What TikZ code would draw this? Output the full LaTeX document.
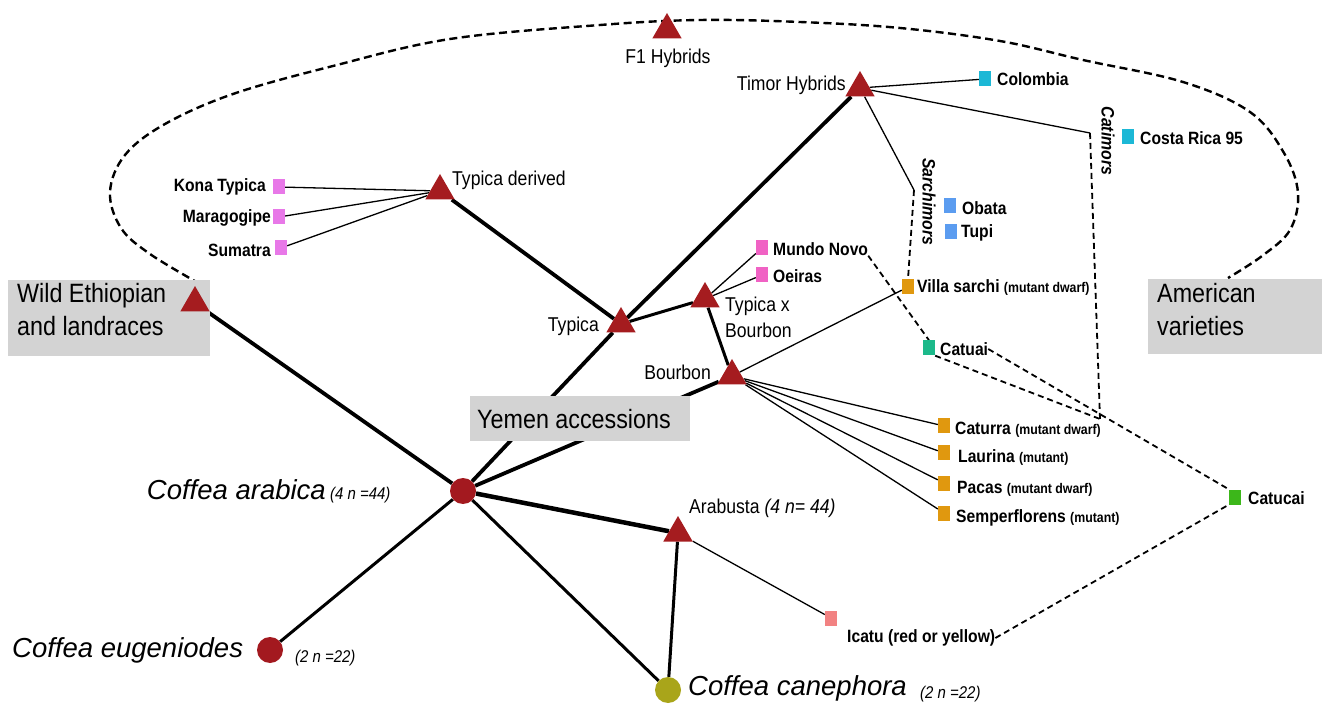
\documentclass[tikz,border=0pt]{standalone}
\usepackage{fontspec}
\setmainfont{Liberation Sans}
\newfontfamily\cf[FakeStretch=0.88]{Liberation Sans}
\newfontfamily\cfw{Liberation Sans}
\usetikzlibrary{shapes.geometric}
\pgfdeclarelayer{bg}
\pgfsetlayers{bg,main}
\definecolor{trired}{HTML}{A51C1F}
\definecolor{dotred}{HTML}{A3191F}
\definecolor{olive}{HTML}{A9A51A}
\definecolor{violetpink}{HTML}{E878E8}
\definecolor{hotpink}{HTML}{F062C4}
\definecolor{cyanbox}{HTML}{1CB8D6}
\definecolor{bluebox}{HTML}{5B9CF0}
\definecolor{orangebox}{HTML}{E0980F}
\definecolor{tealbox}{HTML}{1CB98A}
\definecolor{greenbox}{HTML}{3CB71A}
\definecolor{salmon}{HTML}{F28282}
\definecolor{boxgray}{HTML}{D3D3D3}
\begin{document}
\begin{tikzpicture}[x=1pt,y=-1pt,
  tri/.style={regular polygon, regular polygon sides=3, fill=trired, draw=none, minimum size=34pt, inner sep=0pt},
  dot/.style={circle, fill=#1, draw=none, minimum size=26pt, inner sep=0pt},
  sq/.style={rectangle, fill=#1, draw=none, minimum width=12pt, minimum height=15pt, inner sep=0pt},
  gbox/.style={fill=boxgray, draw=none},
  lb/.style={font=\cf\bfseries\fontsize{17.8}{20}\selectfont, inner sep=0pt},
  rg/.style={font=\cf\fontsize{20}{26}\selectfont, inner sep=0pt, align=left},
  bigit/.style={font=\cfw\itshape\fontsize{27.5}{32}\selectfont, inner sep=0pt},
  smit/.style={font=\cf\itshape\fontsize{17}{19}\selectfont, inner sep=0pt},
  boxt/.style={font=\cf\fontsize{26.5}{33}\selectfont, inner sep=0pt, align=left},
  rot/.style={font=\cf\bfseries\itshape\fontsize{18}{20}\selectfont, inner sep=0pt, rotate=-90},
  heavy/.style={line width=3.8pt},
  medium/.style={line width=3pt},
  twig/.style={line width=1.3pt},
  dsh/.style={line width=1.8pt, dash pattern=on 6pt off 4pt},
  loopdash/.style={line width=2.4pt, dash pattern=on 8pt off 4.5pt}
]
\newcommand{\sm}[1]{{\fontsize{14}{15}\selectfont #1}}
\useasboundingbox (0,0) rectangle (1323,708);

% gray boxes
\fill[gbox] (8,280) rectangle (210,356);
\fill[gbox] (470,396) rectangle (690,441);
\fill[gbox] (1148,279) rectangle (1322,354);
\node[boxt, anchor=north west] (wildT) at (17,283) {Wild Ethiopian\\and landraces};
\node[boxt, anchor=center] (yemenT) at (574,419) {Yemen accessions};
\node[boxt, anchor=north west] (amerT) at (1157,283) {American\\varieties};

% triangles
\node[tri] (f1) at (667,30) {};
\node[tri] (timor) at (860,88) {};
\node[tri] (tder) at (440,191) {};
\node[tri] (wild) at (195,303) {};
\node[tri] (typ) at (621,324) {};
\node[tri] (txb) at (705,299) {};
\node[tri] (bour) at (732,376) {};
\node[tri] (arabu) at (678,533) {};

% circles
\node[dot=dotred] (arab) at (463,491) {};
\node[dot=dotred] (eug) at (270,650) {};
\node[dot=olive] (cane) at (668,690) {};

% squares
\node[sq=violetpink] (kona) at (279,187) {};
\node[sq=violetpink] (marag) at (279,217) {};
\node[sq=violetpink] (suma) at (281,248) {};
\node[sq=cyanbox] (colo) at (985,79) {};
\node[sq=cyanbox] (costa) at (1128,137) {};
\node[sq=bluebox] (obata) at (950,206) {};
\node[sq=bluebox] (tupi) at (951,232) {};
\node[sq=orangebox] (villa) at (908,287) {};
\node[sq=hotpink] (mundo) at (762,248) {};
\node[sq=hotpink] (oei) at (762,275) {};
\node[sq=tealbox] (catuai) at (929,348) {};
\node[sq=orangebox] (catu) at (944,426) {};
\node[sq=orangebox] (laur) at (944,453) {};
\node[sq=orangebox] (pacas) at (944,483) {};
\node[sq=orangebox] (semp) at (944,513) {};
\node[sq=salmon] (icatu) at (831,618) {};
\node[sq=greenbox] (catucai) at (1235,497) {};

% helper coordinates
\coordinate (sarC) at (914,190);
\coordinate (catC) at (1090,133);
\coordinate (catE) at (1100,419);

% labels
\node[rg] (f1L) at (668,58) {F1 Hybrids};
\node[rg, anchor=east] (timorL) at (846,85) {Timor Hybrids};
\node[rg, anchor=west] (tderL) at (452,180) {Typica derived};
\node[rg, anchor=east] (typL) at (599,326) {Typica};
\node[rg, anchor=north west] (txbL) at (725,297) {Typica x\\Bourbon};
\node[rg, anchor=east] (bourL) at (711,372) {Bourbon};
\node[rg, anchor=west] (arabuL) at (689,508) {Arabusta {\itshape(4 \textit{n}= 44)}};
\node[lb, anchor=east] (konaL) at (266,187) {Kona Typica};
\node[lb, anchor=east] (maragL) at (271,218) {Maragogipe};
\node[lb, anchor=east] (sumaL) at (271,250) {Sumatra};
\node[lb, anchor=west] (coloL) at (997,79) {Colombia};
\node[lb, anchor=west] (costaL) at (1140,138) {Costa Rica 95};
\node[lb, anchor=west] (obataL) at (962,208) {Obata};
\node[lb, anchor=west] (tupiL) at (961,233) {Tupi};
\node[lb, anchor=west] (villaL) at (917,288) {Villa sarchi \sm{(mutant dwarf)}};
\node[lb, anchor=west] (mundoL) at (773,249) {Mundo Novo};
\node[lb, anchor=west] (oeiL) at (773,276) {Oeiras};
\node[lb, anchor=west] (catuaiL) at (940,349) {Catuai};
\node[lb, anchor=west] (catuL) at (955,430) {Caturra \sm{(mutant dwarf)}};
\node[lb, anchor=west] (laurL) at (958,458) {Laurina \sm{(mutant)}};
\node[lb, anchor=west] (pacasL) at (957,489) {Pacas \sm{(mutant dwarf)}};
\node[lb, anchor=west] (sempL) at (956,518) {Semperflorens \sm{(mutant)}};
\node[lb, anchor=west] (catucaiL) at (1248,498) {Catucai};
\node[lb, anchor=west] (icatuL) at (847,638) {Icatu (red or yellow)};
\node[rot] (sarL) at (929,202) {Sarchimors};
\node[rot] (catL) at (1108,141) {Catimors};
\node[bigit, anchor=east] (arabL) at (326,490) {Coffea arabica};
\node[smit, anchor=west] (arabN) at (330,495) {(4 \textit{n} =44)};
\node[bigit, anchor=west] (eugL) at (12,650) {Coffea eugeniodes};
\node[smit, anchor=west] (eugN) at (295,658) {(2 \textit{n} =22)};
\node[bigit, anchor=west] (caneL) at (688,688) {Coffea canephora};
\node[smit, anchor=west] (caneN) at (920,694) {(2 \textit{n} =22)};

\begin{pgfonlayer}{bg}
% dashed loop
\draw[loopdash] plot[smooth, tension=0.6] coordinates {(200,284) (150,254) (121,228) (110,192) (125,155) (165,124) (233,94) (333,66) (450,39) (600,25) (700,20) (800,22) (900,28) (1000,41) (1083,60) (1183,82) (1250,112) (1284,153) (1298,193) (1290,230) (1262,256) (1228,278)};
% main branches
\draw[heavy] (wild) -- (arab);
\draw[heavy] (arab) -- (typ) -- (timor);
\draw[heavy] (typ) -- (tder);
\draw[medium] (typ) -- (txb) -- (bour);
\draw[heavy] (arab) -- (bour);
\draw[line width=4.5pt] (arab) -- (arabu);
\draw[medium] (arab) -- (eug);
\draw[medium] (arab) -- (cane);
\draw[medium] (cane) -- (arabu);
% twigs
\draw[twig] (timor) -- (colo);
\draw[twig] (timor) -- (catC);
\draw[twig] (timor) -- (sarC);
\draw[twig] (tder) -- (kona);
\draw[twig] (tder) -- (marag);
\draw[twig] (tder) -- (suma);
\draw[twig] (txb) -- (mundo);
\draw[twig] (txb) -- (oei);
\draw[twig] (bour) -- (villa);
\draw[twig] (bour) -- (catu);
\draw[twig] (bour) -- (laur);
\draw[twig] (bour) -- (pacas);
\draw[twig] (bour) -- (semp);
\draw[twig] (arabu) -- (icatu);
% dashed crosses
\draw[dsh] (sarC) -- (villa.north);
\draw[dsh] (catC) -- (catE);
\draw[dsh] (mundoL.south east) -- (catuai.north);
\draw[dsh] (catuaiL.east) -- (catucai.north west);
\draw[dsh] (catuai.south east) -- (catE);
\draw[dsh] (icatuL.east) -- (catucai.south west);
\end{pgfonlayer}
\end{tikzpicture}
\end{document}
